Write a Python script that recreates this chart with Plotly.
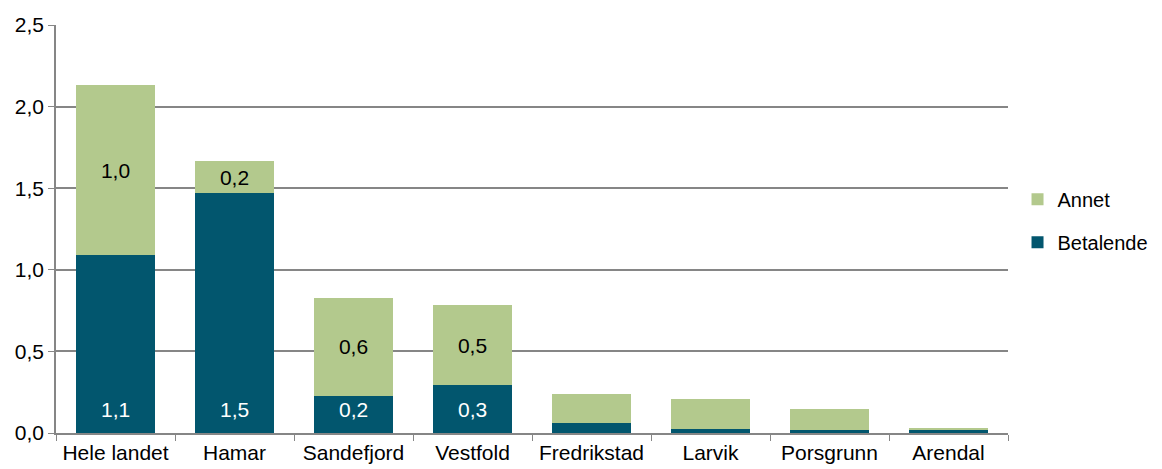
import plotly.graph_objects as go

# data
steder = ['Hele landet', 'Hamar', 'Sandefjord', 'Vestfold',
          'Fredrikstad', 'Larvik', 'Porsgrunn', 'Arendal']
betalende = [1.09, 1.47, 0.227, 0.294, 0.061, 0.024, 0.016, 0.018]
annet = [1.04, 0.196, 0.60, 0.49, 0.18, 0.186, 0.133, 0.014]
n_labels = 4  # only the first four bars carry data labels

green = '#B3C98D'
teal = '#02566E'
grid = '#868686'
font = 'Liberation Sans, Arial, sans-serif'
fs = 21


def lab(vals):
    return [('%.1f' % v).replace('.', ',') if i < n_labels else ''
            for i, v in enumerate(vals)]


fig = go.Figure()
fig.add_trace(go.Bar(
    name='Betalende', x=steder, y=betalende, legendgroup='b', legendrank=2,
    marker=dict(color=teal, line=dict(width=0)),
    hoverinfo='skip',
))
fig.add_trace(go.Bar(
    name='Annet', x=steder, y=annet, legendgroup='a', legendrank=1,
    marker=dict(color=green, line=dict(width=0)),
    text=lab(annet), textposition='inside', insidetextanchor='middle',
    textangle=0, textfont=dict(color='black', size=fs, family=font),
    hoverinfo='skip',
))

# white labels at the base of the betalende bars
for s, t in zip(steder, lab(betalende)):
    if t:
        fig.add_annotation(x=s, y=0, text=t, showarrow=False,
                           yanchor='bottom', yshift=10,
                           font=dict(color='white', size=fs, family=font))

# the page body adds an 8px margin at top/left, so the figure is 8px smaller
fig.update_layout(
    barmode='stack',
    bargap=0.33,
    width=1154, height=461,
    margin=dict(l=48, r=154, t=17, b=36, autoexpand=False),
    paper_bgcolor='white', plot_bgcolor='white',
    separators=', ',
    font=dict(family=font, size=fs, color='black'),
    legend=dict(x=1.01, y=0.52, xanchor='left', yanchor='middle',
                traceorder='grouped', font=dict(size=20),
                itemwidth=30, tracegroupgap=14),
    showlegend=True,
)
fig.update_xaxes(
    showline=True, linecolor=grid, linewidth=1.5,
    ticks='outside', tickson='boundaries', ticklen=6, tickcolor=grid,
    tickfont=dict(size=fs), showgrid=False,
)
fig.update_yaxes(
    range=[0, 2.5], dtick=0.5, tickformat='.1f',
    showline=True, linecolor=grid, linewidth=1.5,
    ticks='outside', ticklen=6, tickcolor=grid,
    showgrid=True, gridcolor=grid, gridwidth=1.5,
    zeroline=False, tickfont=dict(size=fs),
)

fig.write_html('out.html')
